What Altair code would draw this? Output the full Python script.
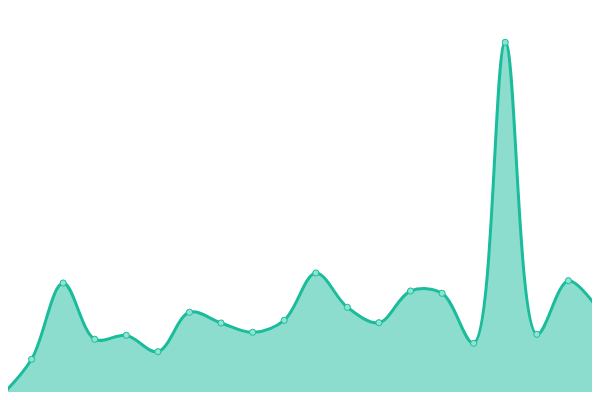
import altair as alt
import pandas as pd

index = list(range(20))
values = [3, 40.7, 117, 60.7, 64.7, 48.3, 87.7, 77, 67.7, 79.7,
          127, 92.7, 77.3, 109, 106.7, 56.7, 357.7, 65.7, 119.3, 88]

df = pd.DataFrame({"i": index, "v": values})

x = alt.X("i:Q", scale=alt.Scale(domain=[0.2533, 18.747], nice=False, zero=False), axis=None)
y = alt.Y("v:Q", scale=alt.Scale(domain=[8, 392], nice=False, zero=False), axis=None)

base = alt.Chart(df).encode(x=x, y=y)

area = base.mark_area(interpolate="catmull-rom", color="#1abc9c", opacity=0.5, clip=True)
line = base.mark_line(interpolate="catmull-rom", color="#1abc9c", strokeWidth=3, clip=True)
pts = base.mark_point(filled=True, shape="circle", size=38, fill="#8ee3d1", stroke="#1abc9c",
                      strokeWidth=1, opacity=1, clip=True)

chart = alt.layer(area, line, pts).properties(
    width=584, height=384, padding=0
).configure_view(stroke=None)

chart.save("out.html", embed_options={"renderer": "svg", "actions": False})
